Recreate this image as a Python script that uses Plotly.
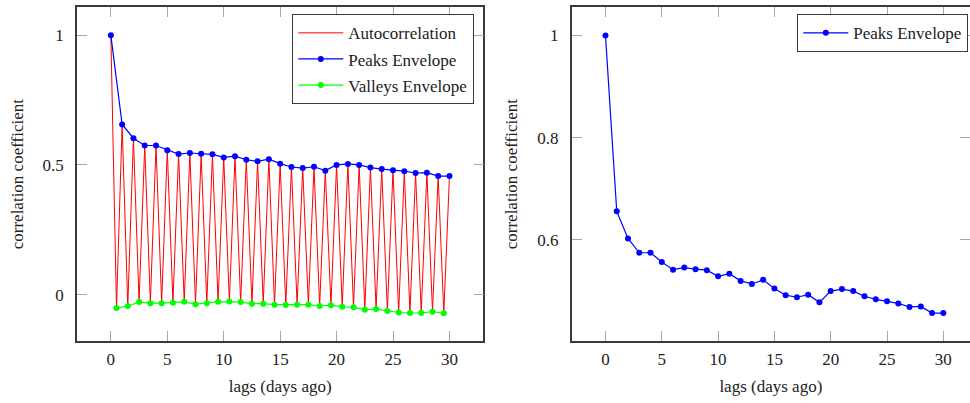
import plotly.graph_objects as go

# Peak (integer-day lags) and valley (half-day lags) autocorrelation values
peak_lags = list(range(0, 31))
peak_values = [1.0, 0.656, 0.603, 0.575, 0.575, 0.557, 0.542, 0.546, 0.543, 0.541,
               0.529, 0.534, 0.520, 0.514, 0.522, 0.505, 0.492, 0.488, 0.493, 0.478,
               0.500, 0.504, 0.500, 0.490, 0.484, 0.480, 0.476, 0.469, 0.470, 0.457,
               0.457]
valley_lags = [k + 0.5 for k in range(0, 30)]
valley_values = [-0.052, -0.044, -0.029, -0.033, -0.033, -0.031, -0.028, -0.037, -0.033, -0.028,
                 -0.027, -0.029, -0.035, -0.035, -0.039, -0.040, -0.039, -0.039, -0.044, -0.041,
                 -0.047, -0.049, -0.058, -0.056, -0.063, -0.069, -0.071, -0.071, -0.066, -0.072]

x_ticks = [0, 5, 10, 15, 20, 25, 30]
left_y_ticks = [0, 0.5, 1]
left_y_labels = ["0", "0.5", "1"]
right_y_ticks = [0.6, 0.8, 1]
right_y_labels = ["0.6", "0.8", "1"]

# Full autocorrelation: alternate peaks and valleys
acf_lags, acf_values = [], []
for i in range(len(peak_lags)):
    acf_lags.append(peak_lags[i])
    acf_values.append(peak_values[i])
    if i < len(valley_lags):
        acf_lags.append(valley_lags[i])
        acf_values.append(valley_values[i])

FONT = "Liberation Serif"
FRAME = "#3a3a3a"
TICK = "#a8a8a8"

fig = go.Figure()

fig.add_trace(go.Scatter(x=acf_lags, y=acf_values, mode="lines", name="Autocorrelation",
                         line=dict(color="#ff0000", width=1), xaxis="x", yaxis="y",
                         legend="legend", legendgroup="a"))
fig.add_trace(go.Scatter(x=peak_lags, y=peak_values, mode="lines+markers", name="Peaks Envelope",
                         line=dict(color="#0000ff", width=1.2), marker=dict(size=6, color="#0000ff"),
                         xaxis="x", yaxis="y", legend="legend", legendgroup="b"))
fig.add_trace(go.Scatter(x=valley_lags, y=valley_values, mode="lines+markers", name="Valleys Envelope",
                         line=dict(color="#00ff00", width=1.2), marker=dict(size=6, color="#00ff00"),
                         xaxis="x", yaxis="y", legend="legend", legendgroup="c"))
fig.add_trace(go.Scatter(x=peak_lags, y=peak_values, mode="lines+markers", name="Peaks Envelope",
                         line=dict(color="#0000ff", width=1.2), marker=dict(size=6, color="#0000ff"),
                         xaxis="x2", yaxis="y2", legend="legend2"))

left_range = [-0.179, 1.108]
right_range = [0.4024, 1.0552]

common_x = dict(ticks="inside", ticklen=10, tickwidth=1.2, tickcolor=TICK,
                showline=True, linecolor=FRAME, linewidth=1.6, mirror="ticks",
                showgrid=False, zeroline=False, tickvals=x_ticks,
                tickfont=dict(family=FONT, size=17, color="#222"),
                ticklabelstandoff=2, automargin=False,
                title=dict(text="lags (days ago)", font=dict(family=FONT, size=17, color="#222"),
                           standoff=12))
common_y = dict(ticks="inside", ticklen=10, tickwidth=1.2, tickcolor=TICK,
                showline=True, linecolor=FRAME, linewidth=1.6, mirror="ticks",
                showgrid=False, zeroline=False,
                tickfont=dict(family=FONT, size=17, color="#222"),
                ticklabelstandoff=8, automargin=False,
                title=dict(text="correlation coefficient", font=dict(family=FONT, size=17, color="#222"),
                           standoff=15))

H = 403.0
y_dom = [(H - 341) / H, (H - 7.3) / H]

fig.update_layout(
    width=970, height=403,
    margin=dict(l=0, r=0, t=0, b=0),
    paper_bgcolor="white", plot_bgcolor="white",
    showlegend=True,
    xaxis=dict(common_x, domain=[77 / 970, 483.3 / 970], range=[-3, 33], anchor="y"),
    yaxis=dict(common_y, domain=y_dom, range=left_range, tickvals=left_y_ticks,
               ticktext=left_y_labels, anchor="x"),
    xaxis2=dict(common_x, domain=[571.7 / 970, 1.0], range=[-3, 32.37], anchor="y2"),
    yaxis2=dict(common_y, domain=y_dom, range=right_range, tickvals=right_y_ticks,
                ticktext=right_y_labels, anchor="x2"),
    legend=dict(x=474 / 970, y=(H - 14) / H, xanchor="right", yanchor="top",
                bgcolor="white", bordercolor=FRAME, borderwidth=1.3,
                font=dict(family=FONT, size=17, color="#222"),
                itemwidth=45, traceorder="grouped", tracegroupgap=1),
    legend2=dict(x=968 / 970, y=(H - 14) / H, xanchor="right", yanchor="top",
                 bgcolor="white", bordercolor=FRAME, borderwidth=1.3,
                 font=dict(family=FONT, size=17, color="#222"),
                 itemwidth=45),
)

fig.write_html("out.html")
